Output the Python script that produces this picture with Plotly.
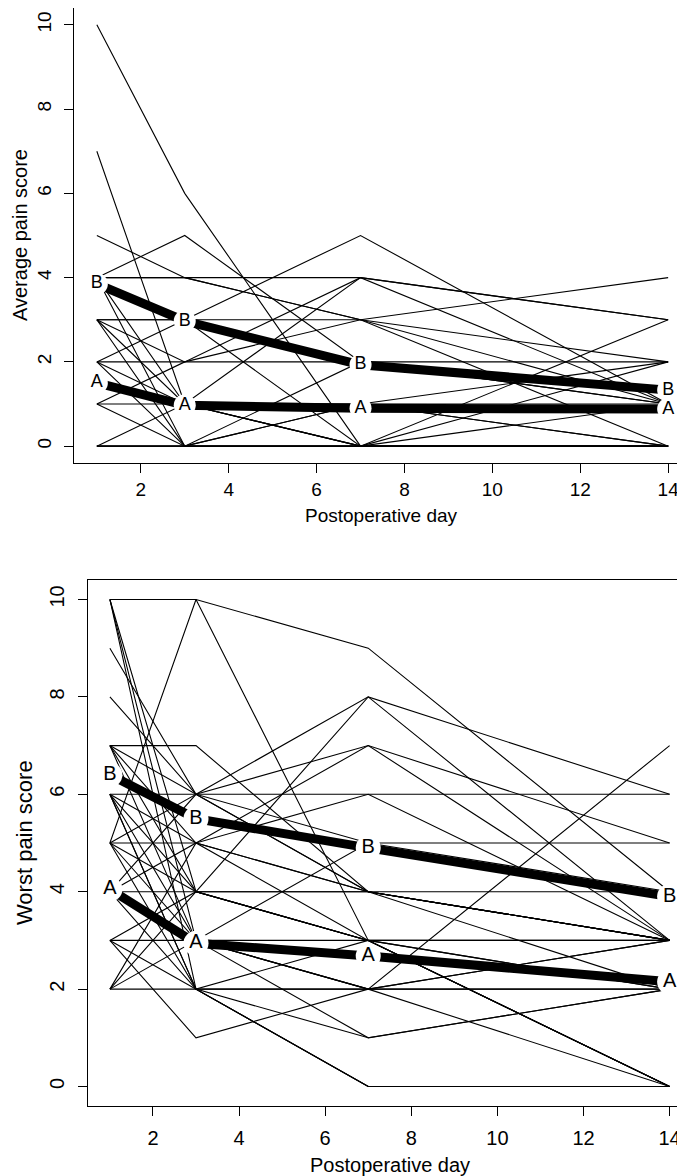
import plotly.graph_objects as go

days = [1, 3, 7, 14]
x_ticks = [2, 4, 6, 8, 10, 12, 14]
y_ticks = [0, 2, 4, 6, 8, 10]

# Average pain score, one value per patient on each day
avg_d1 = [10, 7, 5, 4, 4, 4, 4, 3, 3, 3, 3, 2, 2, 2, 1, 1, 1, 0, 0, 0, 3, 0, 2, 4]
avg_d3 = [6, 1, 4, 4, 5, 1, 0, 3, 1, 0, 2, 2, 3, 0, 1, 0, 2, 0, 1, 0, 3, 0, 1, 4]
avg_d7 = [0, 0, 3, 4, 2, 1, 1, 3, 0, 0, 2, 4, 5, 1, 4, 0, 3, 0, 0, 2, 0, 0, 1, 3]
avg_d14 = [0, 0, 1, 3, 2, 1, 0, 4, 0, 0, 1, 3, 1, 2, 1, 1, 0, 0, 3, 1, 0, 2, 0, 2]

# Worst pain score, one value per patient on each day
worst_d1 = [10, 10, 10, 10, 5, 9, 8, 7, 7, 7, 7, 6, 6, 6, 6, 6, 5, 5, 5, 5, 4, 4, 4, 3, 3, 3, 3, 2, 2, 2, 2, 7, 6, 4, 5]
worst_d3 = [10, 3, 2, 4, 10, 6, 6, 7, 6, 5, 4, 6, 5, 4, 3, 2, 5, 4, 6, 2, 4, 6, 5, 3, 1, 4, 2, 2, 4, 5, 3, 3, 2, 2, 3]
worst_d7 = [9, 3, 2, 4, 3, 4, 8, 4, 6, 7, 3, 5, 4, 8, 2, 0, 6, 3, 4, 1, 4, 7, 3, 2, 2, 3, 0, 2, 3, 4, 5, 2, 3, 0, 1]
worst_d14 = [4, 3, 2, 3, 0, 3, 6, 3, 6, 5, 0, 5, 4, 3, 3, 0, 3, 0, 3, 2, 3, 3, 2, 7, 3, 2, 0, 2, 0, 2, 4, 0, 3, 0, 2]

# group means
avg_mean_A = [1.5, 0.97, 0.9, 0.88]
avg_mean_B = [3.85, 2.97, 1.93, 1.33]
worst_mean_A = [4.05, 2.94, 2.68, 2.15]
worst_mean_B = [6.4, 5.5, 4.9, 3.9]

FONT = "Liberation Sans, Arial, sans-serif"


def spaghetti(d1, d3, d7, d14):
    xs, ys = [], []
    for vals in zip(d1, d3, d7, d14):
        xs += days + [None]
        ys += list(vals) + [None]
    return xs, ys


fig = go.Figure()

panels = [
    ("x", "y", (avg_d1, avg_d3, avg_d7, avg_d14), avg_mean_A, avg_mean_B, 18, 22),
    ("x2", "y2", (worst_d1, worst_d3, worst_d7, worst_d14), worst_mean_A, worst_mean_B, 20, 25),
]
for xa, ya, series, mean_a, mean_b, fsize, msize in panels:
    xs, ys = spaghetti(*series)
    fig.add_trace(go.Scatter(x=xs, y=ys, mode="lines", xaxis=xa, yaxis=ya,
                             line=dict(color="black", width=1.1),
                             showlegend=False, hoverinfo="skip"))
    for m in (mean_a, mean_b):
        fig.add_trace(go.Scatter(x=days, y=m, mode="lines", xaxis=xa, yaxis=ya,
                                 line=dict(color="black", width=9),
                                 showlegend=False))
    for m, lab in ((mean_a, "A"), (mean_b, "B")):
        fig.add_trace(go.Scatter(x=days, y=m, mode="markers+text", xaxis=xa, yaxis=ya,
                                 text=[lab] * 4, textposition="middle center",
                                 textfont=dict(family=FONT, size=fsize, color="black"),
                                 marker=dict(size=msize, color="white", line=dict(width=0)),
                                 showlegend=False))

W, H = 685, 1176
ax_common = dict(showgrid=False, zeroline=False, showline=True, mirror=True,
                 linecolor="black", linewidth=1, ticks="outside", ticklen=9,
                 tickcolor="black", tickwidth=1)

fig.update_layout(
    width=W, height=H,
    margin=dict(l=0, r=0, t=0, b=0),
    paper_bgcolor="white", plot_bgcolor="white",
    xaxis=dict(domain=[66 / W, 683 / W], range=[0.48, 14.52], tickvals=x_ticks,
               anchor="y", tickfont=dict(family=FONT, size=19, color="black"), **ax_common),
    yaxis=dict(domain=[1 - 455 / H, 1], range=[-0.4, 10.4], tickvals=y_ticks,
               tickangle=-90, anchor="x", ticklabelstandoff=5,
               tickfont=dict(family=FONT, size=19, color="black"), **ax_common),
    xaxis2=dict(domain=[79.5 / W, 684 / W], range=[0.48, 14.52], tickvals=x_ticks,
                anchor="y2", ticklabelstandoff=5,
                tickfont=dict(family=FONT, size=20, color="black"), **ax_common),
    yaxis2=dict(domain=[1 - 1098 / H, 1 - 572 / H], range=[-0.4, 10.4], tickvals=y_ticks,
                tickangle=-90, anchor="x2", ticklabelstandoff=6,
                tickfont=dict(family=FONT, size=20, color="black"), **ax_common),
)

titles = [
    ("Postoperative day", 374 / W, 1 - 508 / H, 0, 19),
    ("Average pain score", 12 / W, 1 - 227 / H, -90, 20),
    ("Postoperative day", 382 / W, 1 - 1157 / H, 0, 20),
    ("Worst pain score", 16 / W, 1 - 835 / H, -90, 22),
]
for txt, x, y, ang, size in titles:
    fig.add_annotation(text=txt, x=x, y=y, xref="paper", yref="paper",
                       xanchor="center", yanchor="middle", textangle=ang,
                       showarrow=False, font=dict(family=FONT, size=size, color="black"))

fig.write_html("out.html")
